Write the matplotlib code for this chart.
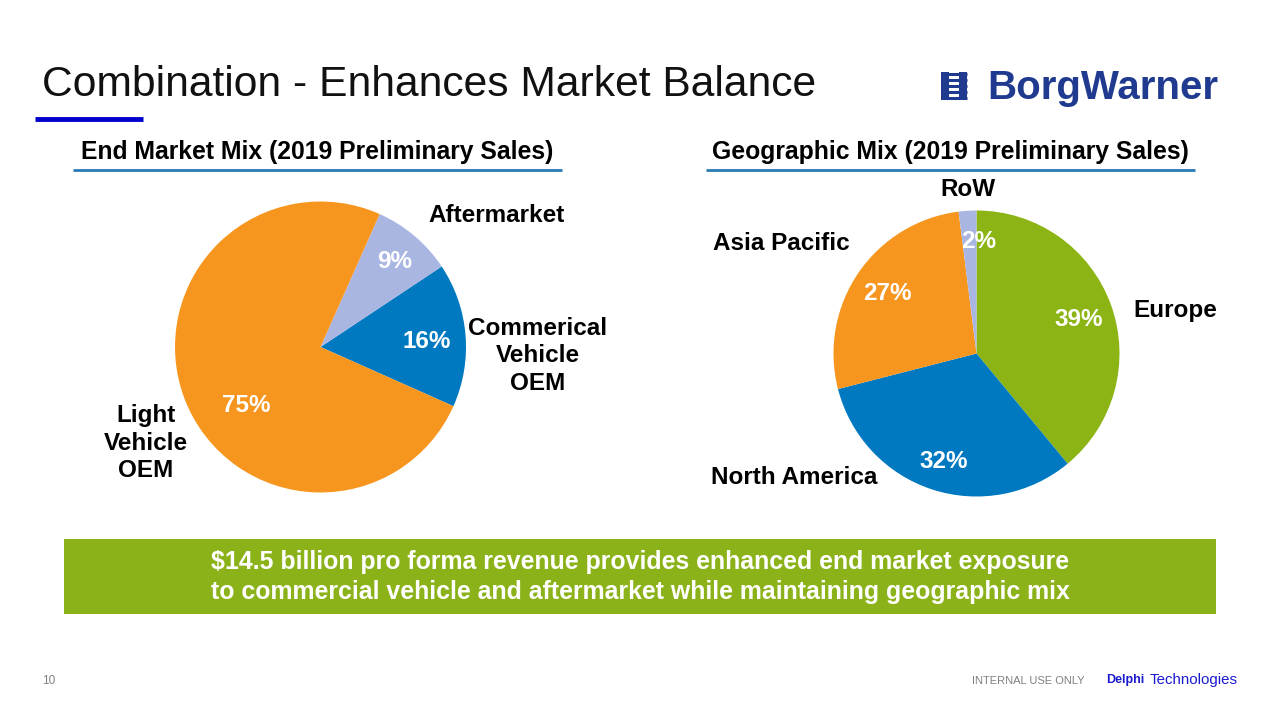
import matplotlib
matplotlib.use("Agg")
import matplotlib.pyplot as plt
from matplotlib.patches import Rectangle

plt.rcParams['font.family'] = ['Liberation Sans', 'DejaVu Sans']

# ---- data ----
end_market_labels = ["Commerical\nVehicle\nOEM", "Aftermarket", "Light\nVehicle\nOEM"]
end_market_values = [16, 9, 75]
end_market_colors = ["#0079C1", "#A9B6E1", "#F7961E"]

geo_labels = ["Europe", "North America", "Asia Pacific", "RoW"]
geo_values = [39, 32, 27, 2]
geo_colors = ["#8CB414", "#0079C1", "#F7961E", "#A9B6E1"]

W, H = 1280, 720
fig = plt.figure(figsize=(12.8, 7.2), dpi=100)
fig.patch.set_facecolor("white")

def pie_axes(cx, cy, r):
    ax = fig.add_axes([(cx - r) / W, (H - cy - r) / H, 2 * r / W, 2 * r / H])
    ax.set_xlim(-1, 1)
    ax.set_ylim(-1, 1)
    ax.set_aspect("equal")
    ax.axis("off")
    return ax

# ---- left pie ----
ax1 = pie_axes(320.5, 347, 145.5)
ax1.pie(end_market_values, colors=end_market_colors, startangle=-24,
        counterclock=True, radius=1, wedgeprops=dict(linewidth=0))
ax1.set_xlim(-1, 1); ax1.set_ylim(-1, 1)

# ---- right pie ----
ax2 = pie_axes(976.5, 353.5, 143)
ax2.pie(geo_values, colors=geo_colors, startangle=90,
        counterclock=False, radius=1, wedgeprops=dict(linewidth=0))
ax2.set_xlim(-1, 1); ax2.set_ylim(-1, 1)

# overlay axes in pixel coords (on top)
ov = fig.add_axes([0, 0, 1, 1], zorder=10)
ov.patch.set_alpha(0)
ov.set_xlim(0, W)
ov.set_ylim(H, 0)
ov.axis("off")

# ---- title ----
ov.text(42, 85, "Combination - Enhances Market Balance", fontsize=30.7,
        color="#111111", ha="left", va="center")
ov.plot([35, 143], [119, 119], color="#0000CC", lw=3.5, solid_capstyle="butt")

# ---- logo ----
ov.text(987, 88, "BorgWarner", fontsize=29, fontweight="bold", color="#1F3A8F",
        ha="left", va="center")
# simple icon
for yy in [74, 80, 86, 92, 98]:
    ov.plot([941, 967], [yy, yy], color="#1F3A8F", lw=2.2, solid_capstyle="butt")
ov.add_patch(Rectangle((941, 72), 8, 28, color="#1F3A8F", lw=0))
ov.add_patch(Rectangle((959, 72), 8, 28, color="#1F3A8F", lw=0))

# ---- subtitles ----
ov.text(317, 152, "End Market Mix (2019 Preliminary Sales)", fontsize=17.8,
        fontweight="bold", color="black", ha="center", va="center")
ov.plot([73, 562], [170, 170], color="#2A7AB6", lw=2, solid_capstyle="butt")
ov.text(950, 152, "Geographic Mix (2019 Preliminary Sales)", fontsize=17.8,
        fontweight="bold", color="black", ha="center", va="center")
ov.plot([706, 1195], [170, 170], color="#2A7AB6", lw=2, solid_capstyle="butt")

lab = dict(fontsize=17.5, fontweight="bold", ha="center", va="center", linespacing=1.27)

# left pie labels
ov.text(538, 356, end_market_labels[0], color="black", **lab)
ov.text(497, 215, end_market_labels[1], color="black", **lab)
ov.text(146, 443, end_market_labels[2], color="black", **lab)
ov.text(427, 342, f"{end_market_values[0]}%", color="white", **lab)
ov.text(395, 262, f"{end_market_values[1]}%", color="white", **lab)
ov.text(246, 406, f"{end_market_values[2]}%", color="white", **lab)

# right pie labels
ov.text(1175, 310, geo_labels[0], color="black", **lab)
ov.text(794, 477, geo_labels[1], color="black", **lab)
ov.text(781, 243, geo_labels[2], color="black", **lab)
ov.text(968, 190, geo_labels[3], color="black", **lab)
ov.text(1079, 320, f"{geo_values[0]}%", color="white", **lab)
ov.text(944, 461, f"{geo_values[1]}%", color="white", **lab)
ov.text(887, 293, f"{geo_values[2]}%", color="white", **lab)
ov.text(979, 241, f"{geo_values[3]}%", color="white", **lab)

# ---- banner ----
ov.add_patch(Rectangle((64, 539), 1152, 75, color="#8CB21A", lw=0))
ov.text(640, 562, "$14.5 billion pro forma revenue provides enhanced end market exposure",
        fontsize=17.9, fontweight="bold", color="white", ha="center", va="center")
ov.text(640, 592, "to commercial vehicle and aftermarket while maintaining geographic mix",
        fontsize=17.9, fontweight="bold", color="white", ha="center", va="center")

# ---- footer ----
ov.text(42, 681, "10", fontsize=8.5, color="#808080", ha="left", va="center")
ov.text(1085, 681, "INTERNAL USE ONLY", fontsize=8, color="#808080", ha="right",
        va="center")
ov.text(1106, 680, "Delphi", fontsize=9, fontweight="bold", color="#1A1AD0",
        ha="left", va="center")
ov.text(1238, 680, "Technologies", fontsize=10.8, color="#1A1AD0", ha="right",
        va="center")

fig.savefig("out.png", dpi=100)
